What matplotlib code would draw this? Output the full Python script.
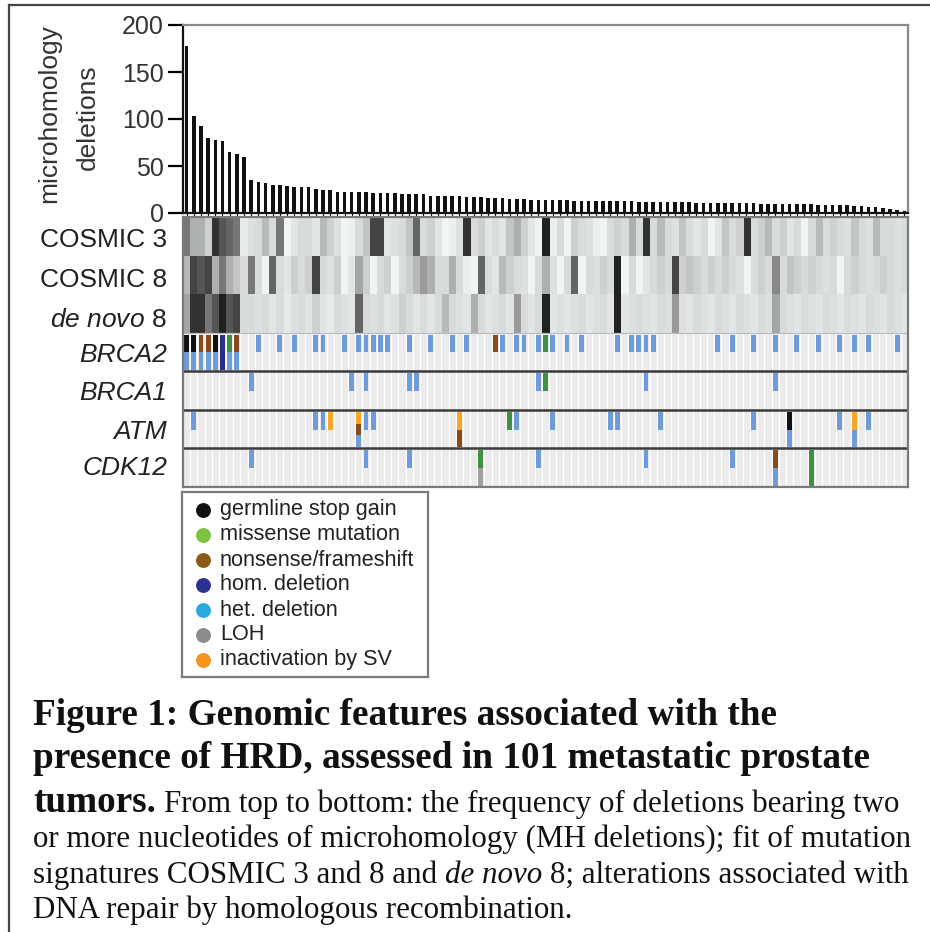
import matplotlib
matplotlib.use("Agg")
import matplotlib.pyplot as plt
from matplotlib.colors import LinearSegmentedColormap
from matplotlib.lines import Line2D

plt.rcParams["font.family"] = ["Liberation Sans", "DejaVu Sans"]
plt.rcParams["mathtext.fontset"] = "custom"
plt.rcParams["mathtext.rm"] = "Liberation Sans"
plt.rcParams["mathtext.it"] = "Liberation Sans:italic"

# DATA
N_TUMORS = 101

MH_DELETIONS = [
    178, 103, 93, 80, 78, 77, 65, 62.5, 60, 35,
    33, 32, 30, 29.5, 29, 28, 27.7, 27.7, 25.2, 24.2,
    24.2, 22.7, 22.7, 22.4, 22.4, 22, 21, 21, 21, 21,
    20.2, 20.2, 19.9, 19.9, 18.5, 18.1, 18.1, 17.8, 17.8, 17,
    17, 16.7, 16.3, 16, 16, 15.3, 15.3, 15, 13.9, 13.9,
    13.5, 13.5, 13.3, 13.3, 13, 13, 12.8, 12.8, 12.5, 12.5,
    12.5, 12.3, 12.3, 12, 12, 12, 11.7, 11.5, 11.5, 11.3,
    11.3, 11, 11, 11, 10.8, 10.8, 10.5, 10.5, 10.3, 10.3,
    10, 10, 10, 9.8, 9.8, 9.5, 9.5, 9.3, 9, 8.8,
    8.5, 8.3, 8, 7.5, 7, 6.5, 6, 5, 4.5, 3.5,
    2.5,
]

COSMIC3 = [
    0.7, 0.5, 0.5, 0.35, 0.9, 0.8, 0.75, 0.7, 0.15, 0.25,
    0.3, 0.45, 0.3, 0.7, 0.05, 0.2, 0.3, 0.3, 0.2, 0.45,
    0.35, 0.25, 0.05, 0.1, 0.3, 0.4, 0.85, 0.85, 0.2, 0.25,
    0.3, 0.4, 0.75, 0.3, 0.35, 0.2, 0.05, 0.1, 0.25, 0.9,
    0.3, 0.35, 0.2, 0.3, 0.2, 0.4, 0.5, 0.35, 0.2, 0.05,
    0.95, 0.1, 0.3, 0.05, 0.35, 0.3, 0.25, 0.1, 0.05, 0.3,
    0.35, 0.3, 0.5, 0.3, 0.9, 0.3, 0.45, 0.3, 0.25, 0.4,
    0.3, 0.2, 0.3, 0.05, 0.2, 0.4, 0.3, 0.35, 0.9, 0.3,
    0.35, 0.45, 0.3, 0.35, 0.2, 0.3, 0.05, 0.3, 0.45, 0.3,
    0.35, 0.3, 0.25, 0.4, 0.3, 0.25, 0.45, 0.3, 0.3, 0.25,
    0.3,
]
COSMIC8 = [
    0.45, 0.85, 0.8, 0.85, 0.5, 0.7, 0.5, 0.4, 0.3, 0.7,
    0.3, 0.05, 0.75, 0.3, 0.2, 0.35, 0.3, 0.35, 0.85, 0.3,
    0.25, 0.35, 0.05, 0.2, 0.55, 0.35, 0.05, 0.3, 0.35, 0.05,
    0.3, 0.35, 0.45, 0.6, 0.5, 0.3, 0.3, 0.5, 0.3, 0.1,
    0.05, 0.75, 0.3, 0.2, 0.45, 0.35, 0.3, 0.25, 0.05, 0.3,
    0.5, 0.25, 0.05, 0.3, 0.75, 0.05, 0.3, 0.25, 0.35, 0.3,
    0.95, 0.05, 0.3, 0.05, 0.2, 0.3, 0.35, 0.3, 0.85, 0.35,
    0.4, 0.35, 0.3, 0.35, 0.3, 0.35, 0.3, 0.25, 0.05, 0.3,
    0.35, 0.3, 0.65, 0.3, 0.4, 0.35, 0.3, 0.35, 0.3, 0.25,
    0.3, 0.05, 0.3, 0.35, 0.3, 0.25, 0.3, 0.35, 0.3, 0.25,
    0.3,
]
DENOVO8 = [
    0.55, 0.9, 0.9, 0.7, 0.8, 0.95, 0.8, 0.85, 0.3, 0.3,
    0.25, 0.3, 0.2, 0.3, 0.15, 0.25, 0.3, 0.2, 0.35, 0.2,
    0.15, 0.3, 0.25, 0.2, 0.75, 0.3, 0.25, 0.3, 0.2, 0.25,
    0.35, 0.3, 0.2, 0.3, 0.2, 0.3, 0.45, 0.3, 0.25, 0.2,
    0.5, 0.3, 0.2, 0.25, 0.3, 0.2, 0.6, 0.3, 0.2, 0.3,
    0.95, 0.2, 0.25, 0.2, 0.25, 0.3, 0.2, 0.25, 0.3, 0.2,
    0.95, 0.2, 0.25, 0.3, 0.25, 0.2, 0.3, 0.25, 0.6, 0.25,
    0.2, 0.3, 0.25, 0.2, 0.3, 0.25, 0.2, 0.3, 0.25, 0.2,
    0.3, 0.25, 0.55, 0.3, 0.25, 0.2, 0.3, 0.25, 0.2, 0.3,
    0.25, 0.2, 0.3, 0.25, 0.2, 0.3, 0.25, 0.2, 0.3, 0.25,
    0.2,
]
SIGNATURES = [COSMIC3, COSMIC8, DENOVO8]

# alteration codes per tumor column, listed from top to bottom of the gene row
# G germline stop gain, M missense, N nonsense/frameshift, H hom. deletion,
# D het. deletion, L LOH, S inactivation by SV
BRCA2 = {0: "GD", 1: "GD", 2: "ND", 3: "ND", 4: "GD", 5: "HH", 6: "MD", 7: "ND",
         10: "D", 13: "D", 15: "D", 18: "D", 19: "D", 22: "D", 24: "D", 25: "D",
         26: "D", 27: "D", 28: "D", 31: "D", 34: "D", 37: "D", 39: "D", 43: "N",
         44: "D", 46: "D", 47: "D", 49: "D", 50: "M", 51: "D", 53: "D", 55: "D",
         60: "D", 62: "D", 63: "D", 64: "D", 65: "D", 74: "D", 76: "D", 79: "D",
         82: "D", 85: "D", 88: "D", 91: "D", 93: "D", 95: "D", 99: "D"}
BRCA1 = {9: "D", 23: "D", 25: "D", 31: "D", 32: "D", 49: "D", 50: "M", 64: "D", 82: "D"}
ATM = {1: "D", 18: "D", 19: "D", 20: "S", 24: "SND", 25: "D", 26: "D", 38: "SN",
       45: "M", 46: "D", 51: "D", 59: "D", 60: "D", 66: "D", 79: "D", 84: "GD",
       91: "D", 93: "SD", 95: "D"}
CDK12 = {9: "D", 25: "D", 31: "D", 41: "ML", 49: "D", 64: "D", 76: "D", 82: "ND",
         87: "MM"}
GENES = [BRCA2, BRCA1, ATM, CDK12]

SIG_LABELS = ["COSMIC 3", "COSMIC 8", r"$\mathit{de\ novo}$ 8"]
GENE_LABELS = ["BRCA2", "BRCA1", "ATM", "CDK12"]
SIG_LABEL_Y = [240, 280, 320]
GENE_LABEL_Y = [355, 393, 432, 468]

MARK_COLOURS = {"G": "#111111", "M": "#3E9140", "N": "#8B4A1C", "H": "#2A2F8A",
                "D": "#6E9BDA", "L": "#A0A0A0", "S": "#F8A727"}

LEGEND_LABELS = ["germline stop gain", "missense mutation", "nonsense/frameshift",
                 "hom. deletion", "het. deletion", "LOH", "inactivation by SV"]
LEGEND_COLOURS = ["#111111", "#7DC242", "#8A5A16", "#2E3192", "#29ABE2", "#8C8C8C", "#F7941D"]

CAPTION = [
    [("Figure 1: Genomic features associated with the", "b")],
    [("presence of HRD, assessed in 101 metastatic prostate", "b")],
    [("tumors.", "b"), ("From top to bottom: the frequency of deletions bearing two", "r")],
    [("or more nucleotides of microhomology (MH deletions); fit of mutation", "r")],
    [("signatures COSMIC 3 and 8 and", "r"), ("de novo", "i"), ("8; alterations associated with", "r")],
    [("DNA repair by homologous recombination.", "r")],
]
CAPTION_BASELINES = [725, 768, 812, 847, 883, 918]

# LAYOUT (pixels, origin top-left)
W, H = 930, 932
GRID_LEFT, GRID_RIGHT = 183, 908


def box(x0, y0, x1, y1):
    return [x0 / W, 1 - y1 / H, (x1 - x0) / W, (y1 - y0) / H]


fig = plt.figure(figsize=(W / 100, H / 100), dpi=100, facecolor="white")

# outer frame of the page snippet
fig.add_artist(Line2D([9 / W, 9 / W], [0, 1 - 5 / H], color="#444444", lw=1.6))
fig.add_artist(Line2D([9 / W, 1], [1 - 5 / H, 1 - 5 / H], color="#444444", lw=1.6))

# bar chart of microhomology deletions
ax_bar = fig.add_axes(box(GRID_LEFT, 25, GRID_RIGHT, 213))
cols = list(range(N_TUMORS))
ax_bar.bar(cols, MH_DELETIONS, width=0.5, color="#111111")
ax_bar.set_xlim(-0.5, N_TUMORS - 0.5)
ax_bar.set_ylim(0, 200)
ax_bar.set_yticks([0, 50, 100, 150, 200])
ax_bar.set_xticks(cols)
ax_bar.tick_params(axis="x", length=3, width=0.8, labelbottom=False, color="#111111")
ax_bar.tick_params(axis="y", length=11, width=1.6, labelsize=18, labelcolor="#333333", pad=3)
for side in ["left", "bottom"]:
    ax_bar.spines[side].set_linewidth(1.6)
    ax_bar.spines[side].set_color("#111111")
for side in ["top", "right"]:
    ax_bar.spines[side].set_linewidth(1.6)
    ax_bar.spines[side].set_color("#8a8a8a")
fig.text(49 / W, 1 - 114 / H, "microhomology", rotation=90, ha="center", va="center",
         fontsize=19, color="#333333")
fig.text(88 / W, 1 - 117 / H, "deletions", rotation=90, ha="center", va="center",
         fontsize=19, color="#333333")

# signature heatmap and alteration grid
ax_grid = fig.add_axes(box(GRID_LEFT, 217, GRID_RIGHT, 487))
sig_cmap = LinearSegmentedColormap.from_list(
    "sig", [(0, "#F4FBFA"), (0.3, "#D8DBDB"), (0.6, "#9A9A9A"), (1, "#111111")])
ax_grid.imshow(SIGNATURES, cmap=sig_cmap, vmin=0, vmax=1, aspect="auto",
               interpolation="nearest", extent=(-0.5, N_TUMORS - 0.5, 3, 0))

for r, gene in enumerate(GENES):
    y0 = 3 + r
    ax_grid.bar(cols, 1, bottom=y0, width=1, color="#EBEBEB", edgecolor="white", linewidth=0.8)
    for col, codes in gene.items():
        n = len(codes)
        h = 0.92 / max(2, n)
        for k, code in enumerate(codes):
            ax_grid.bar(col, h, bottom=y0 + 0.05 + k * h, width=0.68,
                        color=MARK_COLOURS[code], linewidth=0)

for y in [4, 5, 6]:
    ax_grid.axhline(y, color="#3a3a3a", lw=1.8)
ax_grid.axhline(3, color="#bbbbbb", lw=0.8)
ax_grid.set_xlim(-0.5, N_TUMORS - 0.5)
ax_grid.set_ylim(7, 0)
ax_grid.set_xticks([])
ax_grid.set_yticks([])
for side in ax_grid.spines:
    ax_grid.spines[side].set_color("#7a7a7a")
    ax_grid.spines[side].set_linewidth(1.6)

for label, y in zip(SIG_LABELS, SIG_LABEL_Y):
    fig.text(167 / W, 1 - y / H, label, ha="right", va="center", fontsize=19, color="#222222")
for label, y in zip(GENE_LABELS, GENE_LABEL_Y):
    fig.text(167 / W, 1 - y / H, label, ha="right", va="center", fontsize=19,
             fontstyle="italic", color="#222222")

# legend box
ax_leg = fig.add_axes(box(182, 492, 428, 677))
ax_leg.set_xlim(0, 246)
ax_leg.set_ylim(185, 0)
ax_leg.set_xticks([])
ax_leg.set_yticks([])
for side in ax_leg.spines:
    ax_leg.spines[side].set_color("#7a7a7a")
    ax_leg.spines[side].set_linewidth(1.6)
for i, (lab, colr) in enumerate(zip(LEGEND_LABELS, LEGEND_COLOURS)):
    yy = 18 + 25 * i
    ax_leg.scatter([21], [yy], s=115, color=colr, linewidths=0)
    ax_leg.text(38, yy, lab, ha="left", va="center", fontsize=15.6, color="#222222")

# caption
STYLES = {"b": dict(fontweight="bold", fontsize=26.8),
          "r": dict(fontsize=22.3),
          "i": dict(fontsize=22.3, fontstyle="italic")}
renderer = fig.canvas.get_renderer()
for line, base in zip(CAPTION, CAPTION_BASELINES):
    x = 33
    for text, style in line:
        t = fig.text(x / W, 1 - base / H, text, ha="left", va="baseline",
                     family=["Liberation Serif", "DejaVu Serif"], color="#111111", **STYLES[style])
        x += t.get_window_extent(renderer=renderer).width + 8

fig.savefig("out.png", dpi=100, facecolor="white")
